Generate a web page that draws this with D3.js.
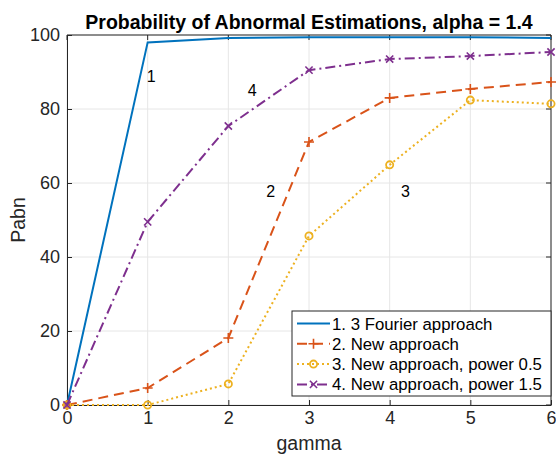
<!DOCTYPE html>
<html><head><meta charset="utf-8">
<script src="https://cdn.jsdelivr.net/npm/d3@7"></script>
<style>
body{margin:0;background:#fff;}
text{font-family:"Liberation Sans",Arial,Helvetica,sans-serif;}
</style></head>
<body><svg id="c" width="556" height="456"></svg>
<script>
const gamma = [0,1,2,3,4,5,6];
const s1 = [0,98,99.2,99.4,99.4,99.4,99.2];
const s2 = [0,4.6,18.1,71.1,83,85.4,87.3];
const s3 = [0,0,5.7,45.7,64.9,82.4,81.4];
const s4 = [0,49.5,75.4,90.5,93.5,94.3,95.4];
const seriesNames = ["1. 3 Fourier approach","2. New approach","3. New approach, power 0.5","4. New approach, power 1.5"];
const xTicks = [0,1,2,3,4,5,6];
const yTicks = [0,20,40,60,80,100];
const annotations = [{t:"1",x:0.99,y:87.3},{t:"4",x:2.24,y:83.5},{t:"2",x:2.47,y:56.2},{t:"3",x:4.14,y:56.2}];

const colors = ["#0072BD","#D95319","#EDB120","#7E2F8E"];
const dashes = [null,"10,6","2,3","10,4,2,4"];
const markers = [null,"plus","circle","x"];

const svg = d3.select("#c");
const L=67,R=551,T=35,B=405;
const x = d3.scaleLinear().domain([0,6]).range([L,R]);
const y = d3.scaleLinear().domain([0,100]).range([B,T]);

// grid
svg.append("g").selectAll("line").data(xTicks).join("line")
  .attr("x1",d=>x(d)).attr("x2",d=>x(d)).attr("y1",T).attr("y2",B)
  .attr("stroke","#e6e6e6").attr("stroke-width",1);
svg.append("g").selectAll("line").data(yTicks).join("line")
  .attr("x1",L).attr("x2",R).attr("y1",d=>y(d)).attr("y2",d=>y(d))
  .attr("stroke","#e6e6e6").attr("stroke-width",1);

// axes
const xa = svg.append("g").attr("transform",`translate(0,${B})`)
  .call(d3.axisBottom(x).tickValues(xTicks).tickFormat(d3.format("d")).tickSize(-5).tickPadding(6).tickSizeOuter(0));
const ya = svg.append("g").attr("transform",`translate(${L},0)`)
  .call(d3.axisLeft(y).tickValues(yTicks).tickFormat(d3.format("d")).tickSize(-5).tickPadding(7).tickSizeOuter(0));
[xa,ya].forEach(a=>{
  a.select(".domain").attr("stroke","#262626");
  a.selectAll(".tick line").attr("stroke","#262626");
  a.selectAll("text").attr("fill","#262626").style("font-size","18px").style("font-family","'Liberation Sans',Arial,sans-serif");
});
// box top/right
svg.append("line").attr("x1",L).attr("x2",R).attr("y1",T).attr("y2",T).attr("stroke","#262626");
svg.append("line").attr("x1",R).attr("x2",R).attr("y1",T).attr("y2",B).attr("stroke","#262626");
// top/right ticks
svg.append("g").selectAll("line").data(xTicks).join("line")
  .attr("x1",d=>x(d)).attr("x2",d=>x(d)).attr("y1",T).attr("y2",T+5).attr("stroke","#262626");
svg.append("g").selectAll("line").data(yTicks).join("line")
  .attr("x1",R-5).attr("x2",R).attr("y1",d=>y(d)).attr("y2",d=>y(d)).attr("stroke","#262626");

const data = [s1,s2,s3,s4];
const line = d3.line().x((d,i)=>x(gamma[i])).y(d=>y(d));

function drawMarker(g,type,cx,cy,c){
  if(type==="plus"){
    g.append("path").attr("d",`M${cx-5},${cy}H${cx+5}M${cx},${cy-5}V${cy+5}`).attr("stroke",c).attr("stroke-width",1.6).attr("fill","none");
  } else if(type==="circle"){
    g.append("circle").attr("cx",cx).attr("cy",cy).attr("r",3.6).attr("stroke",c).attr("stroke-width",1.8).attr("fill","none");
  } else if(type==="x"){
    g.append("path").attr("d",`M${cx-3.6},${cy-3.6}L${cx+3.6},${cy+3.6}M${cx-3.6},${cy+3.6}L${cx+3.6},${cy-3.6}`).attr("stroke",c).attr("stroke-width",1.6).attr("fill","none");
  }
}

data.forEach((s,k)=>{
  const g = svg.append("g");
  g.append("path").datum(s).attr("d",line).attr("fill","none")
    .attr("stroke",colors[k]).attr("stroke-width",2)
    .attr("stroke-dasharray",dashes[k]);
  if(markers[k]) s.forEach((v,i)=>drawMarker(g,markers[k],x(gamma[i]),y(v),colors[k]));
});

// annotations
svg.append("g").selectAll("text").data(annotations).join("text")
  .attr("x",d=>x(d.x)).attr("y",d=>y(d.y)).text(d=>d.t)
  .attr("fill","#000").style("font-size","16px");

// title and labels
svg.append("text").attr("x",(L+R)/2).attr("y",29).attr("text-anchor","middle")
  .style("font-size","19.5px").style("font-weight","bold").attr("fill","#000")
  .text("Probability of Abnormal Estimations, alpha = 1.4");
svg.append("text").attr("x",(L+R)/2).attr("y",450).attr("text-anchor","middle")
  .style("font-size","19.5px").attr("fill","#262626").text("gamma");
svg.append("text").attr("transform",`translate(25,${(T+B)/2}) rotate(-90)`).attr("text-anchor","middle")
  .style("font-size","19.5px").attr("fill","#262626").text("Pabn");

// legend
const lg = svg.append("g");
const lx=292, ly=311, lw=259, lh=85;
lg.append("rect").attr("x",lx).attr("y",ly).attr("width",lw).attr("height",lh)
  .attr("fill","#fff").attr("stroke","#262626").attr("stroke-width",1);
seriesNames.forEach((n,k)=>{
  const ry = ly+12.5+k*20.3;
  lg.append("line").attr("x1",lx+5).attr("x2",lx+38).attr("y1",ry).attr("y2",ry)
    .attr("stroke",colors[k]).attr("stroke-width",2).attr("stroke-dasharray",dashes[k]);
  if(markers[k]) drawMarker(lg,markers[k],lx+21.5,ry,colors[k]);
  lg.append("text").attr("x",lx+40).attr("y",ry+6).text(n).style("font-size","16.8px").attr("fill","#000");
});
</script></body></html>
